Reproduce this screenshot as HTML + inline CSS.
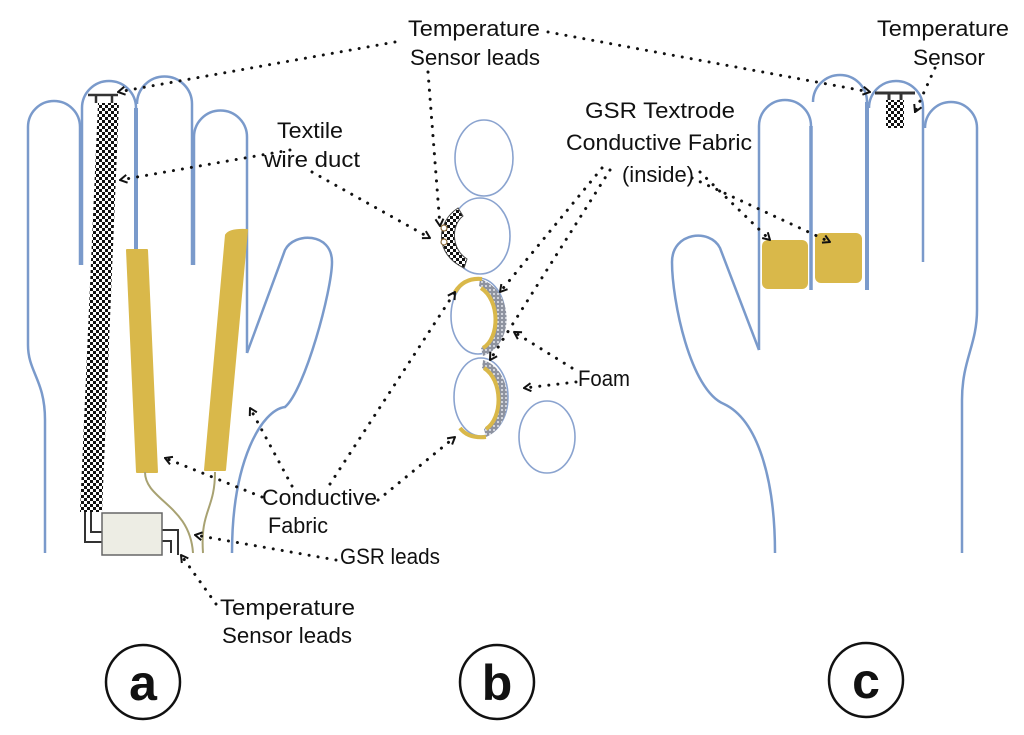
<!DOCTYPE html>
<html><head><meta charset="utf-8"><style>
html,body{margin:0;padding:0;background:#fff}
svg{display:block}
text{font-family:"Liberation Sans",sans-serif;font-size:22px;fill:#111}
</style></head><body>
<svg width="1024" height="735" viewBox="0 0 1024 735" xmlns="http://www.w3.org/2000/svg">
<defs>
<pattern id="chk" width="6" height="6" patternUnits="userSpaceOnUse">
<rect width="6" height="6" fill="#fff"/><rect width="3" height="3" fill="#111"/><rect x="3" y="3" width="3" height="3" fill="#111"/>
</pattern>
<pattern id="foam" width="4" height="4" patternUnits="userSpaceOnUse">
<rect width="4" height="4" fill="#8e93a0"/><circle cx="2" cy="2" r="1" fill="#e6e8ee"/>
</pattern>
<marker id="ar" markerWidth="10" markerHeight="10" refX="9" refY="5" orient="auto" markerUnits="userSpaceOnUse">
<polyline points="2,1 9,5 2,9" fill="none" stroke="#111" stroke-width="2"/>
</marker>
</defs>

<!-- LEFT HAND -->
<g fill="none" stroke="#7a9acb" stroke-width="2.5">
<path d="M45,553 L45,420 C45,380 28,372 28,345 L28,127 A26,26 0 0 1 80,127 L80,265"/>
<path d="M82,265 L82,108 A27,27 0 0 1 136,108"/>
<path d="M136,108 L136,250" stroke-width="4"/>
<path d="M137,104 A27.5,27.5 0 0 1 192,104 L192,265"/>
<path d="M194,265 L194,137 A26.5,26.5 0 0 1 247,137 L247,353"/>
<path d="M247,353 L285,250 C294,232 332,232 332,262 C332,290 305,390 285,407 C262,410 232,460 232,553"/>
</g>
<polygon points="98,103 119,103 102,512 80,512" fill="url(#chk)"/>
<path d="M88,95 L118,95 M96,95 L96,103 M112,95 L112,103" stroke="#333" stroke-width="2.5" fill="none"/>
<polygon points="127,250 147,250 157,472 137,472" fill="#d9b84a" stroke="#d9b84a" stroke-width="2" stroke-linejoin="round"/>
<path d="M226,235 Q230,229 247,230 L225,470 L205,470 Z" fill="#d9b84a" stroke="#d9b84a" stroke-width="2" stroke-linejoin="round"/>
<path d="M145,472 C145,500 190,505 193,553" fill="none" stroke="#a8a272" stroke-width="2"/>
<path d="M215,472 C215,510 200,510 203,553" fill="none" stroke="#a8a272" stroke-width="2"/>
<path d="M85,512 L85,542 L102,542 M91,512 L91,532 L102,532 M162,530 L178,530 L178,555 M162,541 L171,541 L171,553" fill="none" stroke="#333" stroke-width="2"/>
<rect x="102" y="513" width="60" height="42" fill="#ededE4" stroke="#666" stroke-width="1.5"/>

<!-- CENTER -->
<g fill="none" stroke="#8aa3cf" stroke-width="1.6">
<ellipse cx="484" cy="158" rx="29" ry="38"/>
<ellipse cx="480" cy="236" rx="30" ry="38"/>
<ellipse cx="478" cy="316" rx="27" ry="38"/>
<ellipse cx="481" cy="397" rx="27" ry="39"/>
<ellipse cx="547" cy="437" rx="28" ry="36"/>
</g>
<path d="M458,208 C436,222 434,254 464,268 L467,259 C451,249 451,225 463,216 Z" fill="url(#chk)" stroke="#444" stroke-width="1"/>
<circle cx="444" cy="228" r="3" fill="#fff" stroke="#8a6a3a" stroke-width="1.2"/>
<circle cx="444" cy="242" r="3" fill="#fff" stroke="#8a6a3a" stroke-width="1.2"/>
<path d="M480,279 C515,290 515,345 483,356 L481,348 C502,338 502,295 479,286 Z" fill="url(#foam)"/>
<path d="M481,288 C500,300 500,338 483,348" fill="none" stroke="#d9b84a" stroke-width="4"/>
<path d="M455,292 C462,281 472,278 482,279" fill="none" stroke="#d9b84a" stroke-width="4"/>
<path d="M483,360 C515,370 515,425 486,437 L484,429 C504,418 504,378 482,368 Z" fill="url(#foam)"/>
<path d="M484,368 C503,380 503,418 486,429" fill="none" stroke="#d9b84a" stroke-width="4"/>
<path d="M460,428 C466,436 476,438 486,437" fill="none" stroke="#d9b84a" stroke-width="4"/>

<!-- RIGHT HAND -->
<g fill="none" stroke="#7a9acb" stroke-width="2.5">
<path d="M759,350 L720,248 C710,228 672,232 672,262 C672,300 690,390 724,404 C758,420 775,480 775,553"/>
<path d="M759,350 L759,126 A26,26 0 0 1 811,126"/>
<path d="M811,126 L811,290" stroke-width="3.5"/>
<path d="M813,102 A27,27 0 0 1 867,102"/>
<path d="M867,102 L867,290" stroke-width="4"/>
<path d="M869,108 A27,27 0 0 1 923,108 L923,262"/>
<path d="M925,128 A26,26 0 0 1 977,128 L977,310 C977,345 962,360 962,400 L962,553"/>
</g>
<rect x="762" y="240" width="46" height="49" rx="6" fill="#d9b84a"/>
<rect x="815" y="233" width="47" height="50" rx="6" fill="#d9b84a"/>
<path d="M875,93 L915,93 M889,93 L889,100 M901,93 L901,100" stroke="#333" stroke-width="3" fill="none"/>
<rect x="886" y="100" width="18" height="28" fill="url(#chk)"/>

<!-- DOTTED LEADERS -->
<g fill="none" stroke="#111" stroke-width="3" stroke-dasharray="0.1 9" stroke-linecap="round" marker-end="url(#ar)">
<path d="M395,42 L118,92"/>
<path d="M548,32 L870,92"/>
<path d="M428,72 L440,226"/>
<path d="M935,68 L915,112"/>
<path d="M290,150 L120,180"/>
<path d="M312,172 L430,238"/>
<path d="M602,168 L500,292"/>
<path d="M610,170 L490,360"/>
<path d="M700,172 L770,240"/>
<path d="M692,178 L830,242"/>
<path d="M572,368 L514,332"/>
<path d="M576,382 L524,388"/>
<path d="M292,486 L250,408"/>
<path d="M262,497 L165,458"/>
<path d="M330,484 L455,292"/>
<path d="M378,500 L455,437"/>
<path d="M336,560 L195,535"/>
<path d="M216,604 L181,555"/>
</g>

<!-- LABELS -->
<text x="408" y="36" textLength="132" lengthAdjust="spacingAndGlyphs">Temperature</text>
<text x="410" y="65" textLength="130" lengthAdjust="spacingAndGlyphs">Sensor leads</text>
<text x="277" y="138" textLength="66" lengthAdjust="spacingAndGlyphs">Textile</text>
<text x="264" y="167" textLength="96" lengthAdjust="spacingAndGlyphs">wire duct</text>
<text x="585" y="118" textLength="150" lengthAdjust="spacingAndGlyphs">GSR Textrode</text>
<text x="566" y="150" textLength="186" lengthAdjust="spacingAndGlyphs">Conductive Fabric</text>
<text x="622" y="182" textLength="72" lengthAdjust="spacingAndGlyphs">(inside)</text>
<text x="877" y="36" textLength="132" lengthAdjust="spacingAndGlyphs">Temperature</text>
<text x="913" y="65" textLength="72" lengthAdjust="spacingAndGlyphs">Sensor</text>
<text x="578" y="386" textLength="52" lengthAdjust="spacingAndGlyphs">Foam</text>
<text x="262" y="505" textLength="115" lengthAdjust="spacingAndGlyphs">Conductive</text>
<text x="268" y="533" textLength="60" lengthAdjust="spacingAndGlyphs">Fabric</text>
<text x="340" y="564" textLength="100" lengthAdjust="spacingAndGlyphs">GSR leads</text>
<text x="220" y="615" textLength="135" lengthAdjust="spacingAndGlyphs">Temperature</text>
<text x="222" y="643" textLength="130" lengthAdjust="spacingAndGlyphs">Sensor leads</text>

<!-- PANEL LETTERS -->
<g fill="none" stroke="#111" stroke-width="2.5">
<circle cx="143" cy="682" r="37"/>
<circle cx="497" cy="682" r="37"/>
<circle cx="866" cy="680" r="37"/>
</g>
<text x="143" y="700" text-anchor="middle" style="font-size:50px;font-weight:bold">a</text>
<text x="497" y="700" text-anchor="middle" style="font-size:50px;font-weight:bold">b</text>
<text x="866" y="698" text-anchor="middle" style="font-size:50px;font-weight:bold">c</text>
</svg>
</body></html>
